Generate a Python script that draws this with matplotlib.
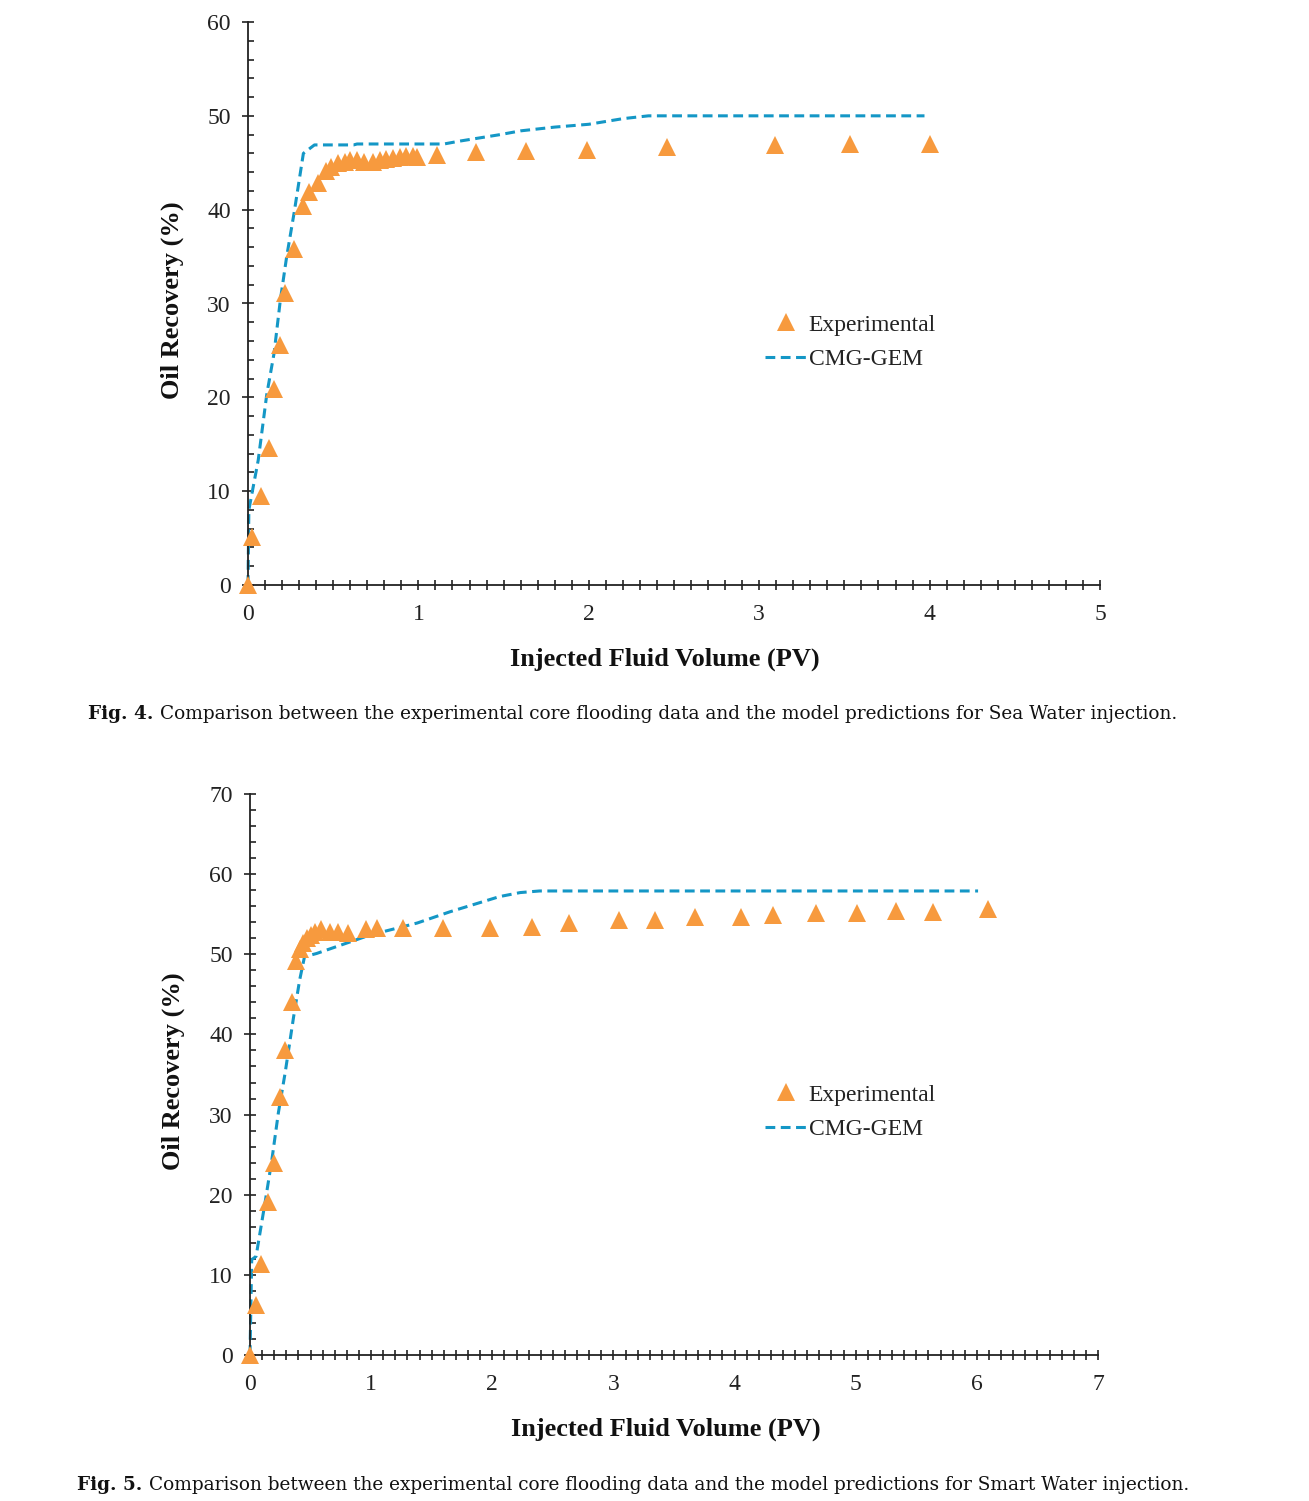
import matplotlib
matplotlib.use("Agg")
import matplotlib.pyplot as plt
from matplotlib.ticker import MultipleLocator

# ---------------- data: Fig. 4 (Sea Water) ----------------
sw_exp_x = [0.0, 0.024, 0.077, 0.123, 0.155, 0.19, 0.22, 0.27, 0.32, 0.36, 0.41,
            0.46, 0.49, 0.53, 0.57, 0.60, 0.64, 0.68, 0.735, 0.775, 0.81, 0.85,
            0.89, 0.93, 0.97, 0.99, 1.11, 1.34, 1.63, 1.99, 2.46, 3.09, 3.53, 4.0]
sw_exp_y = [0.0, 5.15, 9.5, 14.6, 20.9, 25.6, 31.1, 35.8, 40.4, 41.9, 42.8,
            44.1, 44.6, 45.0, 45.1, 45.3, 45.3, 45.1, 45.1, 45.3, 45.4, 45.5,
            45.6, 45.7, 45.7, 45.6, 45.8, 46.1, 46.2, 46.4, 46.7, 46.9, 47.0, 47.0]
sw_sim_x = [0.0, 0.005, 0.06, 0.11, 0.153, 0.19, 0.227, 0.27, 0.325, 0.39, 0.62,
            0.64, 1.15, 1.24, 1.48, 1.6, 1.8, 2.0, 2.2, 2.35, 3.97]
sw_sim_y = [0.0, 8.0, 13.3, 20.3, 24.7, 30.4, 35.0, 39.6, 46.0, 46.9, 46.9,
            47.0, 47.0, 47.3, 48.0, 48.4, 48.8, 49.1, 49.7, 50.0, 50.0]

# ---------------- data: Fig. 5 (Smart Water) ----------------
sm_exp_x = [0.0, 0.05, 0.09, 0.146, 0.2, 0.25, 0.29, 0.344, 0.377, 0.41, 0.44,
            0.47, 0.50, 0.54, 0.59, 0.66, 0.73, 0.81, 0.96, 1.05, 1.26, 1.59,
            1.98, 2.33, 2.63, 3.05, 3.34, 3.67, 4.05, 4.32, 4.67, 5.01, 5.33,
            5.64, 6.09]
sm_exp_y = [0.0, 6.2, 11.4, 19.1, 24.0, 32.2, 38.1, 44.1, 49.1, 50.6, 51.4,
            52.0, 52.4, 52.8, 53.1, 52.8, 52.8, 52.7, 53.1, 53.3, 53.3, 53.3,
            53.3, 53.4, 53.9, 54.3, 54.3, 54.6, 54.7, 54.9, 55.1, 55.1, 55.4,
            55.3, 55.7]
sm_sim_x = [0.0, 0.014, 0.05, 0.124, 0.18, 0.234, 0.29, 0.36, 0.41, 0.45, 0.55,
            0.99, 1.38, 1.65, 2.06, 2.23, 2.39, 6.01]
sm_sim_y = [0.0, 11.9, 12.3, 19.0, 24.3, 30.2, 35.2, 42.2, 46.8, 49.7, 50.1,
            52.4, 53.9, 55.3, 57.2, 57.7, 57.9, 57.9]

legend_labels = ["Experimental", "CMG-GEM"]
xlabel = "Injected Fluid Volume (PV)"
ylabel = "Oil Recovery (%)"
cap4_bold = "Fig. 4."
cap4_text = "Comparison between the experimental core flooding data and the model predictions for Sea Water injection."
cap5_bold = "Fig. 5."
cap5_text = "Comparison between the experimental core flooding data and the model predictions for Smart Water injection."

ORANGE = "#F79A3E"
BLUE = "#1497C6"
SERIF = "Liberation Serif"
CAPFONT = "DejaVu Serif"

W, H = 1309, 1501
fig = plt.figure(figsize=(W / 100, H / 100), dpi=100)


def px_rect(x0, x1, ytop, ybot):
    return [x0 / W, 1 - ybot / H, (x1 - x0) / W, (ybot - ytop) / H]


def style_axes(ax, xmax, ymax):
    ax.set_xlim(0, xmax)
    ax.set_ylim(0, ymax)
    for s in ("top", "right"):
        ax.spines[s].set_visible(False)
    for s in ("left", "bottom"):
        ax.spines[s].set_linewidth(1.3)
        ax.spines[s].set_color("#222222")
    ax.xaxis.set_major_locator(MultipleLocator(1))
    ax.xaxis.set_minor_locator(MultipleLocator(0.1))
    ax.yaxis.set_major_locator(MultipleLocator(10))
    ax.yaxis.set_minor_locator(MultipleLocator(2))
    ax.tick_params(axis="x", which="both", direction="inout", length=7.5,
                   width=1.2, color="#222222")
    ax.tick_params(axis="x", which="major", pad=10, labelsize=17)
    ax.tick_params(axis="y", which="major", direction="inout", length=9,
                   width=1.2, color="#222222", pad=8, labelsize=17)
    ax.tick_params(axis="y", which="minor", direction="in", length=4,
                   width=1.2, color="#222222")
    for lab in ax.get_xticklabels() + ax.get_yticklabels():
        lab.set_fontfamily(SERIF)
        lab.set_color("#222222")


def draw(ax, ex, ey, sx, sy, leg_anchor):
    l1, = ax.plot(sx, sy, color=BLUE, lw=2.2, linestyle=(0, (3.2, 1.8)),
                  clip_on=False, zorder=2)
    p1, = ax.plot(ex, ey, linestyle="none", marker="^", markersize=13.5,
                  color=ORANGE, markeredgewidth=0, clip_on=False, zorder=3)
    leg = ax.legend([p1, l1], legend_labels, loc="upper left",
                    bbox_to_anchor=leg_anchor, bbox_transform=fig.transFigure,
                    frameon=False, prop={"family": SERIF, "size": 17},
                    handlelength=1.75, handletextpad=0.1, labelspacing=0.55,
                    borderaxespad=0, borderpad=0)
    for t in leg.get_texts():
        t.set_color("#222222")


# ---- top chart ----
ax1 = fig.add_axes(px_rect(248, 1100, 22, 585))
draw(ax1, sw_exp_x, sw_exp_y, sw_sim_x, sw_sim_y, (765 / W, 1 - 314 / H))
style_axes(ax1, 5, 60)

# ---- bottom chart ----
ax2 = fig.add_axes(px_rect(250, 1098, 794, 1355))
draw(ax2, sm_exp_x, sm_exp_y, sm_sim_x, sm_sim_y, (765 / W, 1 - 1084 / H))
style_axes(ax2, 7, 70)

# axis labels
for (xc, yc), (yx, yy) in [((665, 659), (172, 300)), ((666, 1429), (173, 1071))]:
    fig.text(xc / W, 1 - yc / H, xlabel, ha="center", va="center",
             fontfamily=SERIF, fontweight="bold", fontsize=19, color="#111111")
    fig.text(yx / W, 1 - yy / H, ylabel, ha="center", va="center",
             rotation=90, fontfamily=SERIF, fontweight="bold", fontsize=19,
             color="#111111")

# captions
for (x0, yb), bold, txt in [((88, 719), cap4_bold, cap4_text),
                            ((77, 1490), cap5_bold, cap5_text)]:
    t1 = fig.text(x0 / W, 1 - yb / H, bold, ha="left", va="baseline",
                  fontfamily=CAPFONT, fontweight="bold", fontsize=13.35,
                  color="#111111")
    ax1.annotate(txt, xy=(1, 0), xycoords=t1, xytext=(5, 0),
                 textcoords="offset points", ha="left", va="bottom",
                 fontfamily=CAPFONT, fontsize=13.35, color="#111111",
                 annotation_clip=False)

fig.savefig("out.png", dpi=100)
